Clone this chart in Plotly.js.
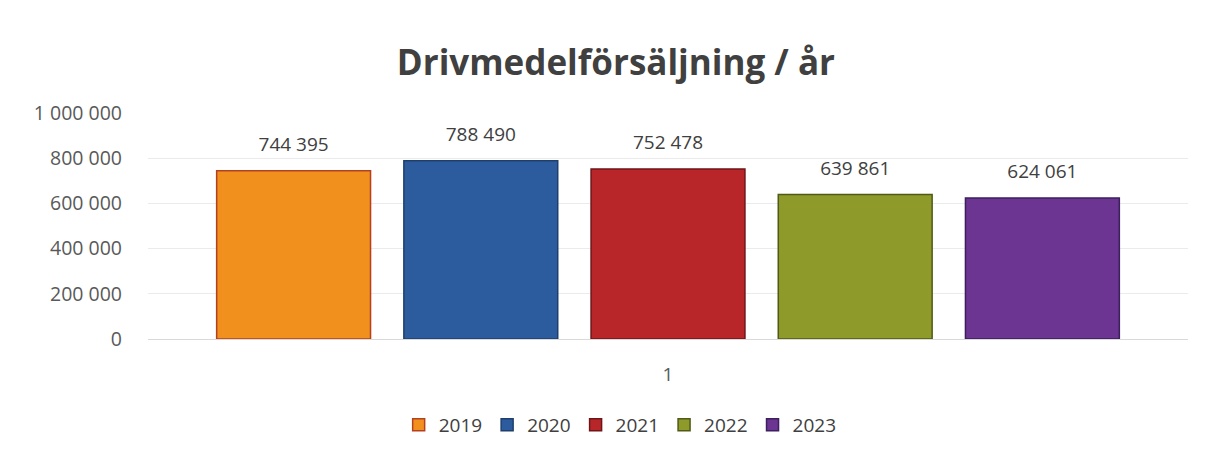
<!DOCTYPE html>
<html>
<head>
<meta charset="utf-8">
<script src="https://cdn.plot.ly/plotly-3.0.1.min.js"></script>
<style>html,body{margin:0;padding:0;background:#fff;}#chart{width:1210px;height:457px;}</style>
</head>
<body>
<div id="chart"></div>
<script>
const category = ['1'];
const years = ['2019', '2020', '2021', '2022', '2023'];
const sales = [744395, 788490, 752478, 639861, 624061];
const fillColors = ['#F2901E', '#2D5C9E', '#B8262A', '#8E9A2A', '#6B3591'];
const lineColors = ['#B5401F', '#1E3F6E', '#6E1518', '#505A16', '#3B1F5E'];

const FONT = 'Open Sans, Lato, sans-serif';

const barTraces = years.map((yr, i) => ({
  type: 'bar',
  name: yr,
  x: category,
  y: [sales[i]],
  marker: {color: fillColors[i], line: {color: lineColors[i], width: 1.5}},
  hoverinfo: 'skip'
}));

// value labels, grouped to sit above each bar
const labelTraces = years.map((yr, i) => ({
  type: 'scatter',
  mode: 'markers+text',
  name: yr + ' label',
  showlegend: false,
  x: category,
  y: [sales[i]],
  marker: {size: 22, opacity: 0, color: fillColors[i]},
  texttemplate: '%{y:,d}',
  textposition: 'top center',
  textfont: {family: FONT, size: 19, color: '#404040'},
  cliponaxis: false,
  hoverinfo: 'skip'
}));

const layout = {
  width: 1210, height: 457,
  paper_bgcolor: '#ffffff', plot_bgcolor: '#ffffff',
  separators: ', ',
  font: {family: FONT, color: '#595959'},
  title: {text: '<b>Drivmedelförsäljning / år</b>', x: 0.509, xref: 'container', xanchor: 'center', y: 0.862, yref: 'container', yanchor: 'middle',
          font: {family: FONT, size: 35, color: '#404040'}},
  margin: {l: 148, r: 22, t: 113, b: 118},
  barmode: 'group',
  bargap: 0.10,
  bargroupgap: 0.178,
  scattermode: 'group',
  scattergap: 0.10,
  showlegend: true,
  legend: {orientation: 'h', x: 0.454, xanchor: 'center', y: -0.38, yanchor: 'middle',
           font: {family: FONT, size: 19, color: '#404040'}, itemwidth: 30, traceorder: 'normal'},
  xaxis: {type: 'category', showgrid: false, showline: true, linecolor: '#d9d9d9', linewidth: 1,
          ticks: '', ticklabelstandoff: 18, tickfont: {family: FONT, size: 19, color: '#595959'}},
  yaxis: {range: [0, 1000000], tick0: 0, dtick: 200000, tickformat: ',d', showgrid: true,
          gridcolor: '#ebebeb', zeroline: false, showline: false, ticks: '',
          ticklabelstandoff: 25, tickfont: {family: FONT, size: 19.5, color: '#595959'}}
};

Plotly.newPlot('chart', barTraces.concat(labelTraces), layout, {displayModeBar: false, staticPlot: true});
</script>
</body>
</html>
